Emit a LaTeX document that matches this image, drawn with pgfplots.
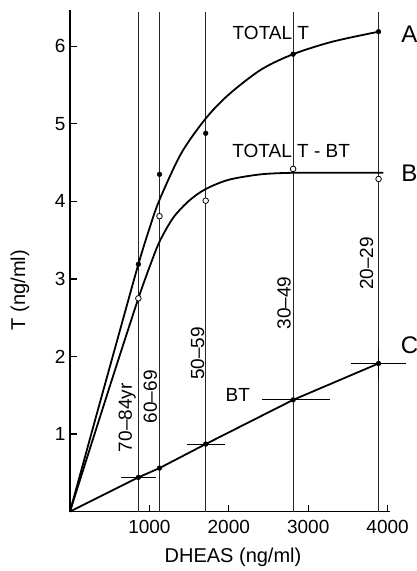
\documentclass[border=0pt]{standalone}
\usepackage{fontspec}
\setmainfont{Liberation Sans}
\usepackage{pgfplots}
\pgfplotsset{compat=1.18}
\begin{document}
\begin{tikzpicture}[x=1pt,y=1pt]
\useasboundingbox (0,0) rectangle (417,-571);
\begin{axis}[
  at={(70pt,-511.5pt)}, anchor=south west,
  scale only axis, width=320pt, height=501.5pt,
  xmin=0, xmax=4030, ymin=0, ymax=6.47,
  axis lines=left, axis line style={-, line width=1.3pt},
  xtick={1000,2000,3000,4000}, ytick={1,2,3,4,5,6},
  tick align=inside, major tick length=7pt,
  tick style={line width=1.1pt, black},
  tick label style={font=\fontsize{19}{21}\selectfont},
  xticklabel style={yshift=-5pt},
  yticklabel style={xshift=-1pt},
  /pgf/number format/assume math mode=true,
  /pgf/number format/1000 sep={},
  clip=false,
]
% vertical lines
\addplot[black!85, line width=0.6pt] coordinates {(861,0) (861,6.45)};
\addplot[black!85, line width=0.6pt] coordinates {(1127,0) (1127,6.45)};
\addplot[black!85, line width=0.6pt] coordinates {(1709,0) (1709,6.45)};
\addplot[black!85, line width=0.6pt] coordinates {(2810,0) (2810,6.45)};
\addplot[black!85, line width=0.6pt] coordinates {(3886,0) (3886,6.45)};
% curve A (TOTAL T)
\addplot[black, line width=1.8pt, smooth] coordinates {
(0,0) (300,1.12) (600,2.23) (861,3.19) (1000,3.65) (1127,4.02) (1400,4.62) (1709,5.07) (2000,5.38) (2405,5.70) (2810,5.90) (3300,6.06) (3886,6.19)};
\addplot[only marks, mark=*, mark size=2.4pt, black] coordinates {
(861,3.19) (1127,4.35) (1709,4.88) (2810,5.90) (3886,6.19)};
% curve B (TOTAL T - BT)
\addplot[black, line width=1.8pt, smooth] coordinates {
(0,0) (300,0.97) (600,1.93) (861,2.75) (1000,3.15) (1127,3.48) (1300,3.79) (1500,4.01) (1709,4.16) (2000,4.28) (2405,4.35) (2810,4.37) (3300,4.37) (3945,4.37)};
\addplot[only marks, mark=*, mark size=2.8pt, mark options={fill=white, line width=0.8pt}, black] coordinates {
(861,2.75) (1127,3.81) (1709,4.01) (2810,4.42) (3886,4.29)};
% BT line
\addplot[black, line width=1.8pt] coordinates {
(0,0) (861,0.44) (1127,0.56) (1709,0.87) (2810,1.44) (3886,1.91)};
\addplot[only marks, mark=*, mark size=2.4pt, black,
  error bars/.cd, x dir=both, x explicit, y dir=both, y explicit,
  error mark=none, error bar style={line width=1.1pt, black}] coordinates {
(861,0.44) += (228,0) -= (215,0)
(1127,0.56) +- (0,0)
(1709,0.87) += (244,0) -= (241,0)
(2810,1.44) += (460,0) -= (396,0)
(3886,1.91) += (346,0.20) -= (350,0.20)};
% labels
\node[font=\fontsize{19}{21}\selectfont] at (axis cs:2530,6.17) {TOTAL T};
\node[font=\fontsize{19}{21}\selectfont] at (axis cs:2785,4.65) {TOTAL T - BT};
\node[font=\fontsize{19}{21}\selectfont] at (axis cs:2114,1.50) {BT};
\node[font=\fontsize{24}{26}\selectfont] at (axis cs:4275,6.16) {A};
\node[font=\fontsize{24}{26}\selectfont] at (axis cs:4275,4.37) {B};
\node[font=\fontsize{24}{26}\selectfont] at (axis cs:4275,2.15) {C};
\node[rotate=90, font=\fontsize{19}{21}\selectfont] at (axis cs:722,1.21) {70\textendash84yr};
\node[rotate=90, font=\fontsize{19}{21}\selectfont] at (axis cs:1013,1.48) {60\textendash69};
\node[rotate=90, font=\fontsize{19}{21}\selectfont] at (axis cs:1608,2.04) {50\textendash59};
\node[rotate=90, font=\fontsize{19}{21}\selectfont] at (axis cs:2696,2.69) {30\textendash49};
\node[rotate=90, font=\fontsize{19}{21}\selectfont] at (axis cs:3734,3.20) {20\textendash29};
\end{axis}
\node[font=\fontsize{20}{22}\selectfont] at (233,-557) {DHEAS (ng/ml)};
\node[rotate=90, font=\fontsize{20}{22}\selectfont] at (20,-290) {T (ng/ml)};
\end{tikzpicture}
\end{document}
